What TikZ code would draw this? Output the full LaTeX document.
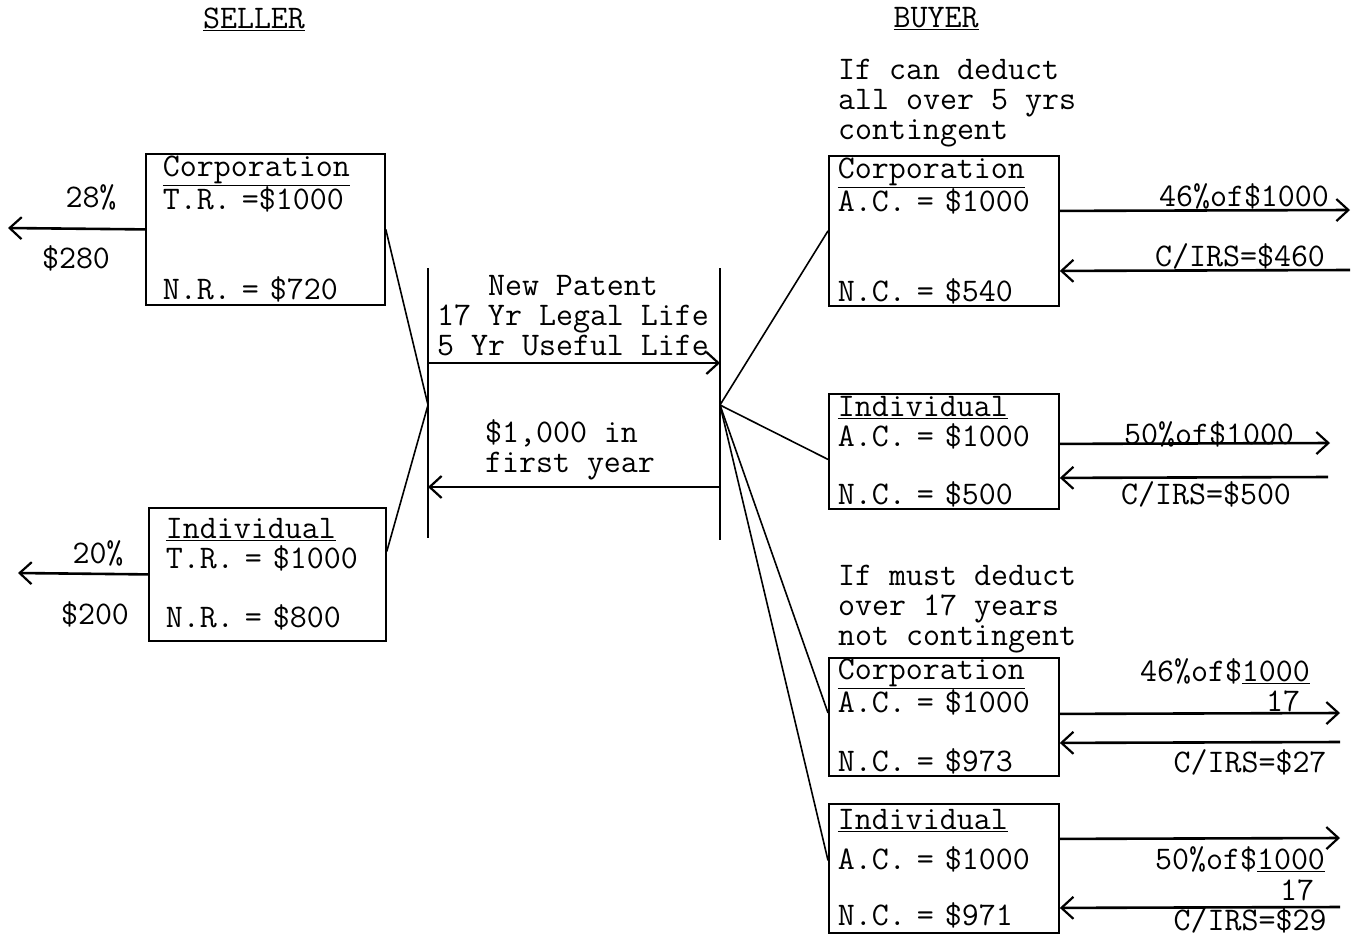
\documentclass[tikz,border=0pt]{standalone}
\usepackage{tikz}
\usetikzlibrary{positioning}
\usetikzlibrary{arrows.meta}

\begin{document}
\begin{tikzpicture}[x=1pt,y=-1pt,
  font=\ttfamily\fontsize{33}{30}\selectfont,
  acct/.style={draw, line width=1.8pt, anchor=north west, align=left, inner ysep=0pt},
  txt/.style={inner sep=0pt},
  link/.style={line width=1.6pt},
  flow/.style={line width=2.6pt, -{Straight Barb[length=12pt,width=22pt,line width=2.2pt]}}]
\useasboundingbox (0,0) rectangle (1359,935);

\node (seller) at (254,19) {\underline{SELLER}};
\node (buyer)  at (936,19) {\underline{BUYER}};

% seller side
\node[acct, minimum width=239pt, minimum height=151pt, inner xsep=17pt, text width=205pt]
  (scorp) at (145,153) {\underline{Corporation}\\T.R. =\$1000\\[60pt]N.R. = \$720};
\node[acct, minimum width=237pt, minimum height=133pt, inner xsep=17pt, text width=203pt]
  (sind) at (148,507) {\underline{Individual}\\T.R. = \$1000\\[29pt]N.R. = \$800};

\coordinate (stax1) at (8,228);
\coordinate (stax2) at (18,573);
\draw[flow] (scorp.west) -- (stax1);
\draw[flow] (sind.west) -- (stax2);
\node[txt] (srate1) at (91,197) {28\%};
\node[txt] (samt1)  at (76,258) {\$280};
\node[txt] (srate2) at (98,553) {20\%};
\node[txt] (samt2)  at (95,614) {\$200};

% the patent sale
\coordinate (ltop) at (428,268);
\coordinate (lbot) at (428,538);
\coordinate (lhub) at (428,405);
\coordinate (rtop) at (720,268);
\coordinate (rbot) at (720,540);
\coordinate (rhub) at (720,405);
\draw[link] (ltop) -- (lbot);
\draw[link] (rtop) -- (rbot);
\draw[link] (scorp.east) -- (lhub) -- ([yshift=23pt]sind.east);

\node[txt, align=center] (patent) at (573,316) {New Patent\\17 Yr Legal Life\\5 Yr Useful Life};
\node[txt, align=left] (payment) at (570,450) {\$1,000 in\\first year};
\coordinate (lsend) at (428,363);
\coordinate (rsend) at (720,363);
\coordinate (lpay) at (428,487);
\coordinate (rpay) at (720,487);
\draw[flow] (lsend) -- (rsend);
\draw[flow] (rpay) -- (lpay);

% buyer side
\node[acct, minimum width=230pt, minimum height=150pt, inner xsep=9pt, text width=212pt]
  (bcorp5) at (828,155) {\underline{Corporation}\\A.C. = \$1000\\[60pt]N.C. = \$540};
\node[acct, minimum width=230pt, minimum height=115pt, inner xsep=9pt, text width=212pt]
  (bind5) at (828,393) {\underline{Individual}\\A.C. = \$1000\\[28pt]N.C. = \$500};
\node[acct, minimum width=230pt, minimum height=118pt, inner xsep=9pt, text width=212pt]
  (bcorp17) at (828,657) {\underline{Corporation}\\A.C. = \$1000\\[29pt]N.C. = \$973};
\node[acct, minimum width=230pt, minimum height=129pt, inner xsep=9pt, text width=212pt]
  (bind17) at (828,803) {\underline{Individual}\\[10pt]A.C. = \$1000\\[26pt]N.C. = \$971};

\node[txt, align=left, anchor=south west] (cond5) at ([xshift=10pt,yshift=8pt]bcorp5.north west)
  {If can deduct\\all over 5 yrs\\contingent};
\node[txt, align=left, anchor=south west] (cond17) at ([xshift=10pt,yshift=4pt]bcorp17.north west)
  {If must deduct\\over 17 years\\not contingent};

\draw[link] (rhub) -- (bcorp5.west);
\draw[link] (rhub) -- ([yshift=-8pt]bind5.west);
\draw[link] (rhub) -- ([yshift=4pt]bcorp17.west);
\draw[link] (rhub) -- ([yshift=8pt]bind17.west);

% deductions and tax savings
\coordinate (bout1) at (1350,210);
\coordinate (bin1)  at (1350,270);
\draw[flow] ([yshift=20pt]bcorp5.east) -- (bout1);
\draw[flow] (bin1) -- ([yshift=-40pt]bcorp5.east);
\node[txt] (bded1) at (1244,196) {46\%of\$1000};
\node[txt] (birs1) at (1240,256) {C/IRS=\$460};

\coordinate (bout2) at (1330,443);
\coordinate (bin2)  at (1328,477);
\draw[flow] ([yshift=7.5pt]bind5.east) -- (bout2);
\draw[flow] (bin2) -- ([yshift=-26.5pt]bind5.east);
\node[txt] (bded2) at (1209,434) {50\%of\$1000};
\node[txt] (birs2) at (1206,494) {C/IRS=\$500};

\coordinate (bout3) at (1340,713);
\coordinate (bin3)  at (1340,742);
\draw[flow] ([yshift=3pt]bcorp17.east) -- (bout3);
\draw[flow] (bin3) -- ([yshift=-26pt]bcorp17.east);
\node[txt] (bded3) at (1225,671) {46\%of\$\underline{1000}};
\node[txt] (byrs3) at (1283,701) {17};
\node[txt] (birs3) at (1250,762) {C/IRS=\$27};

\coordinate (bout4) at (1340,838);
\coordinate (bin4)  at (1340,907);
\draw[flow] ([yshift=29.5pt]bind17.east) -- (bout4);
\draw[flow] (bin4) -- ([yshift=-39.5pt]bind17.east);
\node[txt] (bded4) at (1240,859) {50\%of\$\underline{1000}};
\node[txt] (byrs4) at (1297,890) {17};
\node[txt] (birs4) at (1250,920) {C/IRS=\$29};
\end{tikzpicture}
\end{document}
